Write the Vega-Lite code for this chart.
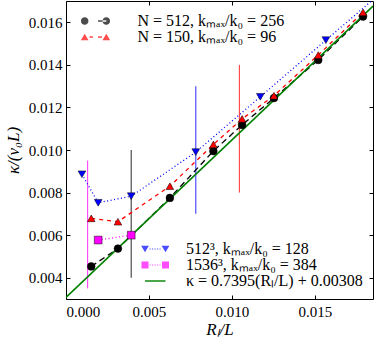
{
  "$schema": "https://vega.github.io/schema/vega-lite/v6.json",
  "width": 307,
  "height": 298,
  "autosize": "none",
  "padding": {"left": 66, "top": 1, "right": 1, "bottom": 40},
  "background": "white",
  "config": {
    "view": {"stroke": "black", "strokeWidth": 1},
    "font": "Liberation Serif",
    "axis": {
      "grid": false,
      "domainColor": "black",
      "tickColor": "black",
      "labelColor": "black",
      "titleColor": "black",
      "labelFont": "Liberation Serif",
      "labelFontSize": 15,
      "titleFont": "Liberation Serif",
      "titleFontSize": 17,
      "titleFontWeight": "normal",
      "titleFontStyle": "italic"
    },
    "legend": {
      "labelFont": "Liberation Serif",
      "labelFontSize": 16,
      "labelColor": "black",
      "labelLimit": 300,
      "symbolSize": 100,
      "symbolStrokeWidth": 0,
      "padding": 0
    }
  },
  "datasets": {
    "pts": [
      {"series": "N = 512, kₘₐₓ/k₀ = 256", "x": 0.00152, "y": 0.00453},
      {"series": "N = 512, kₘₐₓ/k₀ = 256", "x": 0.00313, "y": 0.00537},
      {"series": "N = 512, kₘₐₓ/k₀ = 256", "x": 0.00626, "y": 0.00775},
      {"series": "N = 512, kₘₐₓ/k₀ = 256", "x": 0.00888, "y": 0.00995},
      {"series": "N = 512, kₘₐₓ/k₀ = 256", "x": 0.01061, "y": 0.01118},
      {"series": "N = 512, kₘₐₓ/k₀ = 256", "x": 0.01253, "y": 0.01244},
      {"series": "N = 512, kₘₐₓ/k₀ = 256", "x": 0.0152, "y": 0.01423},
      {"series": "N = 512, kₘₐₓ/k₀ = 256", "x": 0.0179, "y": 0.01627},
      {"series": "N = 150, kₘₐₓ/k₀ = 96", "x": 0.00152, "y": 0.00679},
      {"series": "N = 150, kₘₐₓ/k₀ = 96", "x": 0.00313, "y": 0.00663},
      {"series": "N = 150, kₘₐₓ/k₀ = 96", "x": 0.00626, "y": 0.0083},
      {"series": "N = 150, kₘₐₓ/k₀ = 96", "x": 0.00888, "y": 0.01026},
      {"series": "N = 150, kₘₐₓ/k₀ = 96", "x": 0.01061, "y": 0.01146},
      {"series": "N = 150, kₘₐₓ/k₀ = 96", "x": 0.01253, "y": 0.01255},
      {"series": "N = 150, kₘₐₓ/k₀ = 96", "x": 0.0152, "y": 0.01446},
      {"series": "N = 150, kₘₐₓ/k₀ = 96", "x": 0.0179, "y": 0.01647},
      {"series": "512³, kₘₐₓ/k₀ = 128", "x": 0.00096, "y": 0.00886},
      {"series": "512³, kₘₐₓ/k₀ = 128", "x": 0.00194, "y": 0.00752},
      {"series": "512³, kₘₐₓ/k₀ = 128", "x": 0.00393, "y": 0.00783},
      {"series": "512³, kₘₐₓ/k₀ = 128", "x": 0.00782, "y": 0.0099},
      {"series": "512³, kₘₐₓ/k₀ = 128", "x": 0.01171, "y": 0.0125},
      {"series": "512³, kₘₐₓ/k₀ = 128", "x": 0.01566, "y": 0.01516},
      {"series": "512³, kₘₐₓ/k₀ = 128", "x": 0.0196, "y": 0.0178},
      {"series": "1536³, kₘₐₓ/k₀ = 384", "x": 0.00194, "y": 0.00577},
      {"series": "1536³, kₘₐₓ/k₀ = 384", "x": 0.00393, "y": 0.006}
    ],
    "vlines": [
      {"series": "1536³, kₘₐₓ/k₀ = 384", "x": 0.0013, "lo": 0.0035, "hi": 0.0095},
      {"series": "N = 512, kₘₐₓ/k₀ = 256", "x": 0.00393, "lo": 0.004, "hi": 0.010},
      {"series": "512³, kₘₐₓ/k₀ = 128", "x": 0.00782, "lo": 0.007, "hi": 0.013},
      {"series": "N = 150, kₘₐₓ/k₀ = 96", "x": 0.01045, "lo": 0.008, "hi": 0.014}
    ],
    "fit": [
      {"x": 0, "y": 0.00308},
      {"x": 0.0185, "y": 0.016761}
    ],
    "leg": [
      {"series": "none"}
    ]
  },
  "layer": [
    {
      "layer": [
        {
          "data": {"name": "vlines"},
          "mark": {"type": "rule", "strokeWidth": 1.2, "opacity": 0.7},
          "encoding": {
            "x": {"field": "x", "type": "quantitative", "axis": null},
            "y": {"field": "lo", "type": "quantitative", "axis": null},
            "y2": {"field": "hi"},
            "color": {"field": "series", "type": "nominal", "legend": null}
          }
        },
        {
          "data": {"name": "pts"},
          "mark": {"type": "line", "strokeWidth": 1.3, "clip": true},
          "encoding": {
            "x": {"field": "x", "type": "quantitative", "axis": null},
            "y": {"field": "y", "type": "quantitative", "axis": null},
            "order": {"field": "x"},
            "color": {"field": "series", "type": "nominal", "legend": null},
            "strokeDash": {"field": "series", "type": "nominal", "legend": null,
              "scale": {"domain": ["N = 512, kₘₐₓ/k₀ = 256", "N = 150, kₘₐₓ/k₀ = 96", "512³, kₘₐₓ/k₀ = 128", "1536³, kₘₐₓ/k₀ = 384"],
                        "range": [[6, 4], [4, 4], [1, 2.5], [1, 2.5]]}}
          }
        },
        {
          "data": {"name": "fit"},
          "mark": {"type": "line", "color": "#008000", "strokeWidth": 1.6, "clip": true},
          "encoding": {
            "x": {"field": "x", "type": "quantitative",
              "axis": {"orient": "top", "labels": false, "title": null, "tickSize": -4, "values": [0, 0.005, 0.01, 0.015], "domain": false}},
            "y": {"field": "y", "type": "quantitative",
              "axis": {"orient": "right", "labels": false, "title": null, "tickSize": -4, "values": [0.004, 0.006, 0.008, 0.01, 0.012, 0.014, 0.016], "domain": false}}
          }
        },
        {
          "data": {"name": "pts"},
          "mark": {"type": "point", "filled": true, "opacity": 1, "size": 60, "stroke": "black", "strokeWidth": 0.5, "clip": true},
          "encoding": {
            "x": {"field": "x", "type": "quantitative",
              "scale": {"domain": [0, 0.0185], "nice": false, "zero": false},
              "axis": {"orient": "bottom", "title": "Rₗ/L", "values": [0, 0.005, 0.01, 0.015], "format": ".3f", "tickSize": -4, "labelPadding": 9, "titlePadding": 2, "domain": false}},
            "y": {"field": "y", "type": "quantitative",
              "scale": {"domain": [0.003, 0.017], "nice": false, "zero": false},
              "axis": {"orient": "left", "title": "κ/(v₀L)", "values": [0.004, 0.006, 0.008, 0.01, 0.012, 0.014, 0.016], "format": ".3f", "tickSize": -4, "labelPadding": 8, "titlePadding": 6, "domain": false}},
            "color": {"field": "series", "type": "nominal", "legend": null,
              "scale": {"domain": ["N = 512, kₘₐₓ/k₀ = 256", "N = 150, kₘₐₓ/k₀ = 96", "512³, kₘₐₓ/k₀ = 128", "1536³, kₘₐₓ/k₀ = 384"],
                        "range": ["#000000", "#ff0000", "#0000ff", "#ff00ff"]}},
            "shape": {"field": "series", "type": "nominal", "legend": null,
              "scale": {"domain": ["N = 512, kₘₐₓ/k₀ = 256", "N = 150, kₘₐₓ/k₀ = 96", "512³, kₘₐₓ/k₀ = 128", "1536³, kₘₐₓ/k₀ = 384"],
                        "range": ["circle", "triangle-up", "triangle-down", "square"]}}
          }
        }
      ],
      "resolve": {"axis": {"x": "independent", "y": "independent"}}
    },
    {
      "data": {"name": "leg"},
      "transform": [{"filter": "datum.series == 'x'"}],
      "mark": {"type": "point", "filled": true},
      "encoding": {
        "color": {"field": "series", "type": "nominal",
          "scale": {"domain": ["N = 512, kₘₐₓ/k₀ = 256", "N = 150, kₘₐₓ/k₀ = 96"], "range": ["#000000", "#ff0000"]},
          "legend": {"title": null, "orient": "top-left", "offset": 12, "rowPadding": 0, "symbolOffset": 10.5, "labelOffset": 33}},
        "shape": {"field": "series", "type": "nominal",
          "scale": {"domain": ["N = 512, kₘₐₓ/k₀ = 256", "N = 150, kₘₐₓ/k₀ = 96"],
            "range": [
              "M-1.61,0A0.75,0.75 0 1,0 -3.11,0A0.75,0.75 0 1,0 -1.61,0ZM2.71,0A0.75,0.75 0 1,0 1.21,0A0.75,0.75 0 1,0 2.71,0ZM0.3,-0.14H1.96V0.14H0.3Z",
              "M-2.36,-0.67L-3.13,0.67L-1.59,0.67ZM1.96,-0.67L1.19,0.67L2.73,0.67ZM-1.4,-0.14H-0.7V0.14H-1.4ZM0.3,-0.14H1.1V0.14H0.3Z"
            ]},
          "legend": {"title": null, "orient": "top-left", "offset": 12, "rowPadding": 0, "symbolOffset": 10.5, "labelOffset": 33}}
      }
    },
    {
      "data": {"name": "leg"},
      "transform": [{"filter": "datum.series == 'x'"}],
      "mark": {"type": "point", "filled": true},
      "encoding": {
        "color": {"field": "series", "type": "nominal",
          "scale": {"domain": ["512³, kₘₐₓ/k₀ = 128", "1536³, kₘₐₓ/k₀ = 384", "κ = 0.7395(Rₗ/L) + 0.00308"], "range": ["#0000ff", "#ff00ff", "#008000"]},
          "legend": {"title": null, "orient": "bottom-right", "offset": 10, "rowPadding": 0, "symbolOffset": 27, "labelOffset": 32}},
        "shape": {"field": "series", "type": "nominal",
          "scale": {"domain": ["512³, kₘₐₓ/k₀ = 128", "1536³, kₘₐₓ/k₀ = 384", "κ = 0.7395(Rₗ/L) + 0.00308"],
            "range": [
              "M-0.2,0.67L-0.97,-0.67L0.57,-0.67ZM3.9,0.67L3.13,-0.67L4.67,-0.67ZM0.7,-0.12h0.22v0.24h-0.22ZM1.2,-0.12h0.22v0.24h-0.22ZM1.7,-0.12h0.22v0.24h-0.22ZM2.2,-0.12h0.22v0.24h-0.22ZM2.7,-0.12h0.22v0.24h-0.22Z",
              "M-0.9,-0.7H0.5V0.7H-0.9ZM3.2,-0.7H4.6V0.7H3.2ZM0.7,-0.12h0.22v0.24h-0.22ZM1.2,-0.12h0.22v0.24h-0.22ZM1.7,-0.12h0.22v0.24h-0.22ZM2.2,-0.12h0.22v0.24h-0.22ZM2.7,-0.12h0.22v0.24h-0.22Z",
              "M-0.2,-0.2H3.9V0.2H-0.2Z"
            ]},
          "legend": {"title": null, "orient": "bottom-right", "offset": 10, "rowPadding": 0, "symbolOffset": 27, "labelOffset": 32}}
      }
    }
  ],
  "resolve": {"scale": {"color": "independent", "shape": "independent"}}
}
